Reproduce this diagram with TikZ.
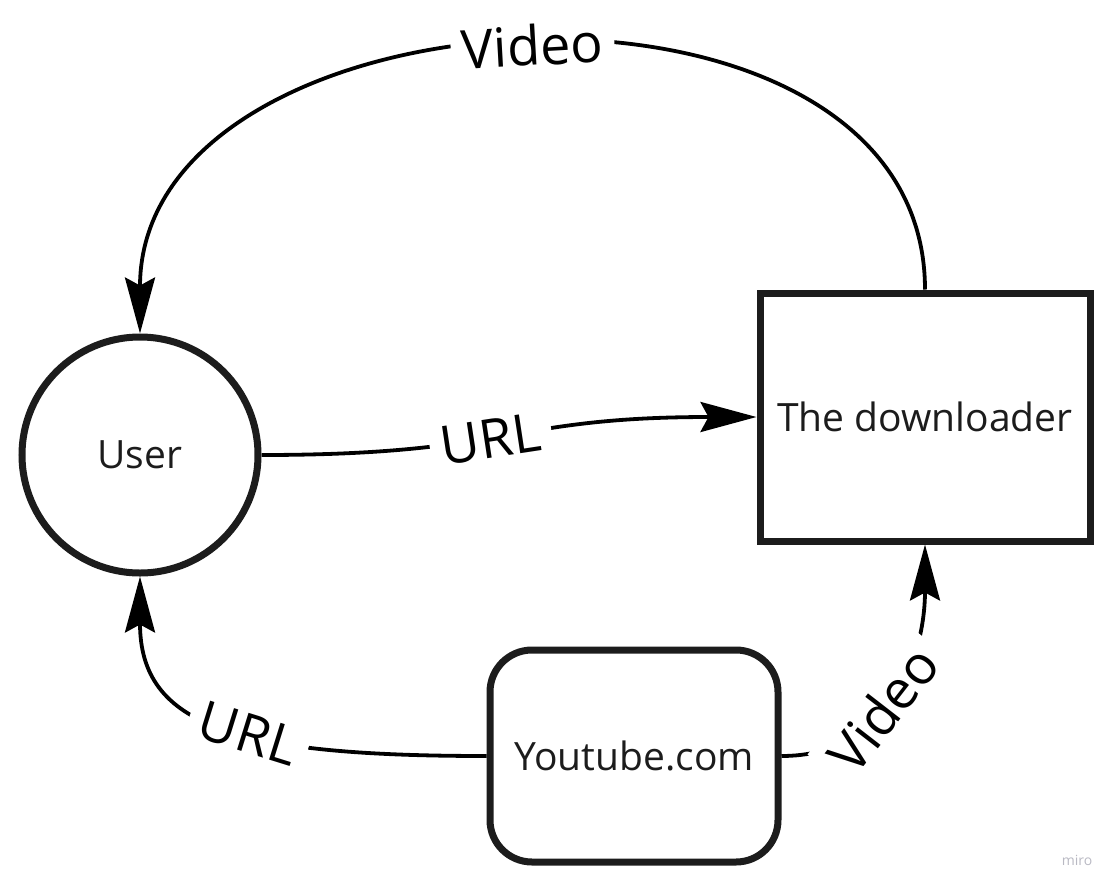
\documentclass[tikz,border=0pt]{standalone}
\usepackage{fontspec}
\setmainfont{Open Sans}
\usetikzlibrary{arrows.meta}
\definecolor{inkgray}{RGB}{28,28,28}
\definecolor{markgray}{RGB}{185,185,195}

\begin{document}
\begin{tikzpicture}[x=1pt, y=-1pt,
  box/.style={draw=inkgray, line width=7pt, text=inkgray, inner sep=0pt,
    font=\fontsize{39}{44}\selectfont},
  flow/.style={line width=3.8pt, -{Stealth[length=56pt, width=30pt, inset=8pt]}},
  lbl/.style={fill=white, inner sep=11pt, sloped, font=\fontsize{54}{60}\selectfont}]
\useasboundingbox (0,0) rectangle (1120,892);

% Actors and boxes
\node[box, circle, minimum size=236pt] (user) at (140,455) {User};
\node[box, rectangle, minimum width=330pt, minimum height=248pt] (down) at (925,417) {The downloader};
\node[box, rectangle, rounded corners=42pt, minimum width=288pt, minimum height=212pt] (yt) at (634,756) {Youtube.com};

% Flows
\draw[flow] (down.north) .. controls +(0,-355) and +(0,-355) .. node[lbl] {Video} (user.north);
\draw[flow] (user.east) .. controls +(250,0) and +(-250,0) .. node[lbl, pos=0.45] {URL} (down.west);
\draw[flow] (yt.west) .. controls +(-250,0) and +(0,150) .. node[lbl, pos=0.42] {URL} (user.south);
\draw[flow] (yt.east) .. controls +(110,0) and +(0,110) .. node[lbl, pos=0.42] {Video} (down.south);

% Watermark
\node[text=markgray, font=\fontsize{14}{16}\selectfont] (mark) at (1077,860) {miro};
\end{tikzpicture}
\end{document}
